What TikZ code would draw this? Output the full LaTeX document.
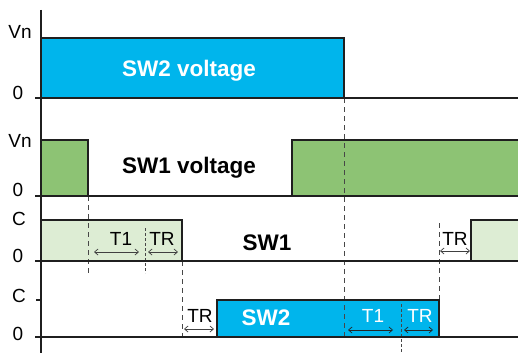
\documentclass[tikz,border=0pt]{standalone}
\usepackage{fontspec}
\setmainfont{Liberation Sans}
\usepackage{tikz}
\usetikzlibrary{arrows.meta, positioning, calc}
\definecolor{swblue}{HTML}{00B5EC}
\definecolor{swgreen}{HTML}{8DC374}
\definecolor{swlight}{HTML}{DDEDD4}
\tikzset{
	level/.style={
		draw=black!88,
		line width=1.5pt,
		line join=miter
	},
	guide/.style={
		draw=black!72,
		line width=1pt,
		dash pattern=on 5pt off 4pt
	},
	fineguide/.style={
		draw=black!72,
		line width=1pt,
		dash pattern=on 3pt off 2pt
	},
	span/.style={
		{Straight Barb[length=3.5pt,width=6pt]}-{Straight Barb[length=3.5pt,width=6pt]},
		line width=0.7pt,
		draw=black!75
	}
}

\begin{document}
\begin{tikzpicture}[x=1pt, y=-1pt]
		\useasboundingbox (0,0) rectangle (518,353);
		% Styles des textes
		\tikzstyle{axislabel}=[font=\fontsize{19}{19}\selectfont, anchor=base, inner sep=0pt]
		\tikzstyle{trace}=[font=\fontsize{22.5}{23}\selectfont\bfseries, anchor=base, inner sep=0pt]
		\tikzstyle{delay}=[font=\fontsize{19}{19}\selectfont, anchor=base, inner sep=0pt]
		
		%--- Surfaces colorées ---
		\fill[swblue] (41,38) rectangle (344,98);
		\fill[swgreen] (41,140) rectangle (88,196);
		\fill[swgreen] (292,140) rectangle (518,196);
		\fill[swlight] (41,220) rectangle (182,261);
		\fill[swlight] (471,220) rectangle (518,261);
		\fill[swblue] (217,300) rectangle (439,337);
		
		%--- Repères verticaux (pointillés) ---
		\draw[guide] (88,196) -- (88,273);
		\draw[fineguide] (145,228) -- (145,273);
		\draw[guide] (182,261) -- (182,338);
		\draw[guide] (344,98) -- (344,338);
		\draw[guide] (439,223) -- (439,300);
		\draw[fineguide] (401,304) -- (401,353);
		
		%--- Axe vertical ---
		\draw[level] (41,10) -- (41,353);
		
		%--- Niveaux des signaux ---
		% SW2 voltage
		\draw[level] (35,98) -- (518,98);
		\draw[level] (41,38) -- (344,38) -- (344,98);
		% SW1 voltage
		\draw[level] (35,196) -- (518,196);
		\draw[level] (41,140) -- (88,140) -- (88,196);
		\draw[level] (292,196) -- (292,140) -- (518,140);
		% SW1
		\draw[level] (35,261) -- (518,261);
		\draw[level] (41,220) -- (182,220) -- (182,261);
		\draw[level] (471,261) -- (471,220) -- (518,220);
		% SW2
		\draw[level] (35,337) -- (518,337);
		\draw[level] (36,300) -- (41,300);
		\draw[level] (217,337) -- (217,300) -- (439,300) -- (439,337);
		
		%--- Graduations ---
		\node[axislabel] (vn2) at (20,38) {Vn};
		\node[axislabel] (z2) at (18,99) {0};
		\node[axislabel] (vn1) at (20,147) {Vn};
		\node[axislabel] (z1) at (18,196) {0};
		\node[axislabel] (c1) at (19,225) {C};
		\node[axislabel] (z3) at (18,262) {0};
		\node[axislabel] (c2) at (19,302) {C};
		\node[axislabel] (z4) at (18,340) {0};
		
		%--- Noms des signaux ---
		\node[trace, text=white] (sw2v) at (189,76) {SW2 voltage};
		\node[trace] (sw1v) at (189,173) {SW1 voltage};
		\node[trace] (sw1) at (267,250) {SW1};
		\node[trace, text=white] (sw2) at (266,325) {SW2};
		
		%--- Extrémités des flèches de temps ---
		\path (94,252) coordinate (T1aL) ++(45,0) coordinate (T1aR);
		\path (148,252) coordinate (TRaL) ++(30,0) coordinate (TRaR);
		\path (440,251) coordinate (TRbL) ++(30,0) coordinate (TRbR);
		\path (184,329) coordinate (TRcL) ++(30,0) coordinate (TRcR);
		\path (348,330) coordinate (T1dL) ++(45,0) coordinate (T1dR);
		\path (404,330) coordinate (TRdL) ++(29,0) coordinate (TRdR);
		
		%--- Flèches T1 / TR ---
		\draw[span] (T1aL) -- (T1aR);
		\draw[span] (TRaL) -- (TRaR);
		\draw[span] (TRbL) -- (TRbR);
		\draw[span] (TRcL) -- (TRcR);
		\draw[span, draw=black!85] (T1dL) -- (T1dR);
		\draw[span, draw=black!85] (TRdL) -- (TRdR);
		
		\node[delay] (t1a) at (121,245) {T1};
		\node[delay] (tra) at (162,245) {TR};
		\node[delay] (trb) at (455,245) {TR};
		\node[delay] (trc) at (200,322) {TR};
		\node[delay, text=white] (t1d) at (373,322) {T1};
		\node[delay, text=white] (trd) at (420,322) {TR};
	\end{tikzpicture}
\end{document}
